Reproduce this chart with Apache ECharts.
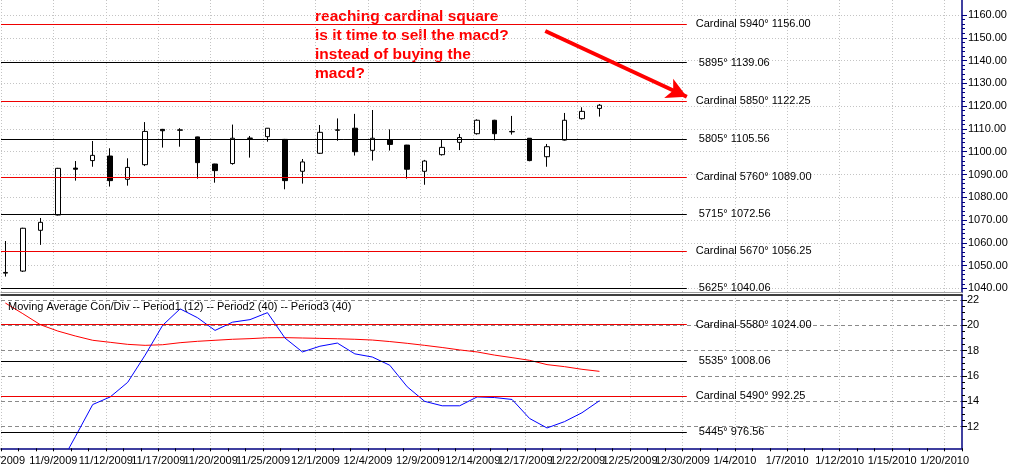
<!DOCTYPE html>
<html><head><meta charset="utf-8">
<script src="https://cdn.jsdelivr.net/npm/echarts@6/dist/echarts.min.js"></script>
<style>html,body{margin:0;padding:0;background:#fff}#c{width:1012px;height:467px}</style>
</head><body><div id="c"></div>
<script>
// ---- data ----
const dates = ['11/4/2009','11/5/2009','11/6/2009','11/9/2009','11/10/2009','11/11/2009','11/12/2009','11/13/2009','11/16/2009','11/17/2009',
 '11/18/2009','11/19/2009','11/20/2009','11/23/2009','11/24/2009','11/25/2009','11/27/2009','11/30/2009','12/1/2009','12/2/2009',
 '12/3/2009','12/4/2009','12/7/2009','12/8/2009','12/9/2009','12/10/2009','12/11/2009','12/14/2009','12/15/2009','12/16/2009',
 '12/17/2009','12/18/2009','12/21/2009','12/22/2009','12/23/2009','12/24/2009','12/25/2009','12/28/2009','12/29/2009','12/30/2009',
 '12/31/2009','1/1/2010','1/4/2010','1/5/2010','1/6/2010','1/7/2010','1/8/2010','1/11/2010','1/12/2010','1/13/2010',
 '1/14/2010','1/15/2010','1/18/2010','1/19/2010','1/20/2010','1/21/2010'];
const opens  = [1046.7,1047.6,1065.5,1072.2,1092.8,1096.1,1098.1,1087.9,1094.3,1109.8,1109.4,1106.5,1094.6,1094.8,1105.8,1106.6,1105.4,1091.4,1099.3,1109.4,1110.3,1100.6,1105.1,1102.9,1091.4,1098.7,1104.1,1107.9,1113.8,1108.7,1105.9,1097.8,1105.1,1114.5,1119.0];
const closes = [1047.0,1066.4,1069.0,1092.7,1092.3,1098.4,1087.3,1093.1,1108.9,1109.2,1109.6,1095.2,1091.7,1105.9,1106.0,1110.3,1087.3,1095.5,1108.5,1109.6,1100.0,1105.9,1103.2,1092.3,1095.9,1101.9,1106.2,1113.8,1107.9,1108.9,1096.1,1102.2,1113.8,1117.7,1120.4];
const lows   = [1045.2,1047.2,1059.1,1072.0,1087.3,1093.4,1084.7,1085.1,1093.7,1101.8,1102.2,1088.2,1086.4,1094.3,1097.4,1104.4,1083.5,1086.0,1099.0,1104.8,1098.3,1096.1,1100.5,1088.2,1085.5,1098.3,1100.7,1107.5,1105.0,1107.5,1095.8,1093.4,1104.9,1114.1,1115.4];
const highs  = [1060.8,1066.6,1070.9,1092.9,1095.9,1104.7,1101.5,1097.1,1113.0,1110.0,1110.3,1106.6,1094.7,1111.9,1106.9,1110.4,1105.6,1096.8,1111.7,1114.6,1116.6,1118.3,1109.8,1103.0,1096.4,1105.4,1107.8,1114.2,1114.0,1115.7,1105.9,1103.4,1117.0,1119.5,1120.9];
const macd   = [null,null,null,8.7,11.2,13.75,14.35,15.5,17.65,20.0,21.3,20.6,19.6,20.25,20.45,21.0,19.0,17.9,18.35,18.6,17.75,17.5,16.85,15.15,14.0,13.65,13.65,14.35,14.3,14.15,12.65,11.9,12.4,13.1,14.05];
const signal = [21.76,20.92,20.05,19.55,19.16,18.82,18.66,18.5,18.42,18.47,18.63,18.74,18.82,18.9,18.95,19.02,19.03,19.0,18.97,18.94,18.9,18.84,18.72,18.58,18.42,18.25,18.06,17.9,17.65,17.45,17.24,16.9,16.74,16.53,16.37];
const priceLevels   = [1156.00,1139.06,1122.25,1105.56,1089.00,1072.56,1056.25,1040.06];
const priceDegrees  = [5940,5895,5850,5805,5760,5715,5670,5625];
const priceCardinal = [true,false,true,false,true,false,true,false];
const macdLevels    = [20.05,17.2,14.4,11.55];
const macdDegrees   = [5580,5535,5490,5445];
const macdPrices    = [1024.00,1008.06,992.25,976.56];
const macdCardinal  = [true,false,true,false];
const priceTicks = {min:1040, max:1160, step:10};
const macdTicks  = {min:12, max:22, step:2};
const panelTitle = 'Moving Average Con/Div -- Period1 (12) -- Period2 (40) -- Period3 (40)';
const note = ['reaching cardinal square','is it time to sell the macd?','instead of buying the','macd?'];
const arrowFrom = [30.9, 1153];
const arrowTo   = [39.0, 1124.1];
const levelEndDate = '12/30/2009';

// ---- layout ----
const FONT = "'Liberation Sans', Arial, sans-serif";
const L = 1, R = 50;
const topFrame  = {top:0, height:292.5};
const priceGrid = {top:15, height:273.4};
const macdFrame = {top:295, height:153.3};
const macdGrid  = {top:300, height:126.7};
const shift = 0.25;                 // candles sit a bit right of date grid lines
const xMin = -shift, xMax = dates.length - 1 - shift;
const mPx = macdGrid.height / (macdTicks.max - macdTicks.min);
const macdMax = macdTicks.max + (macdGrid.top - macdFrame.top) / mPx;
const macdMin = macdTicks.min - ((macdFrame.top + macdFrame.height) - (macdGrid.top + macdGrid.height)) / mPx;
const endX = dates.indexOf(levelEndDate);
const RED = '#ee0000', NAVY = '#000080';

const candleData = opens.map((o,i)=>[i, o, closes[i], lows[i], highs[i]]);
const macdData = macd.map((v,i)=>[i, v]);
const sigData = signal.map((v,i)=>[i, v]);

function levelLines(vals, degs, prices, card){
  return vals.map((v,i)=>{
    const c = card[i];
    const txt = (c ? 'Cardinal ' : ' ') + degs[i] + '\u00b0 ' + prices[i].toFixed(2);
    return [
      {coord:[xMin, v], lineStyle:{color: c ? RED : '#000', width:1, type:'solid'},
       label:{show:true, position:'end', distance:9, formatter: txt, color:'#000', fontSize:11, fontFamily:FONT}},
      {coord:[endX, v]}
    ];
  });
}

const labelAxisBase = {
  type:'category', data: dates, boundaryGap:false,
  splitLine:{show:true, interval:2, lineStyle:{color:'#c4c4c4', type:[1,2], width:1}},
};
const gridBase = {left:L, right:R, outerBoundsMode:'none', containLabel:false};
const hiddenLine = {show:false, onZero:false};

const chart = echarts.init(document.getElementById('c'), null, {renderer:'canvas'});
chart.setOption({
  backgroundColor:'#ffffff',
  animation:false,
  textStyle:{fontFamily:FONT},
  title:{text:panelTitle, left:3, top:296, textStyle:{fontSize:11, fontWeight:'normal', color:'#000', fontFamily:FONT}},
  graphic:[{
    type:'text', left:315, top:7, silent:true,
    style:{text: note.join('\n'), fill:'#ff0000', font:"bold 15.5px " + FONT, lineHeight:19}
  }],
  grid:[
    Object.assign({top:topFrame.top, height:topFrame.height}, gridBase),
    Object.assign({top:priceGrid.top, height:priceGrid.height}, gridBase),
    Object.assign({top:macdFrame.top, height:macdFrame.height}, gridBase),
    Object.assign({top:macdGrid.top, height:macdGrid.height}, gridBase)
  ],
  xAxis:[
    Object.assign({gridIndex:0, position:'bottom',
      axisLine:{show:true, onZero:false, lineStyle:{color:'#a0a0a0', width:1}}, axisTick:{show:false}, axisLabel:{show:false}}, labelAxisBase),
    {gridIndex:1, type:'value', min:xMin, max:xMax, show:false, axisLine:hiddenLine},
    Object.assign({gridIndex:2, position:'bottom',
      axisLine:{show:true, onZero:false, lineStyle:{color:NAVY, width:1.5}},
      axisTick:{show:true, interval:0, length:3, lineStyle:{color:'#000'}},
      axisLabel:{show:true, interval:2, color:'#000', fontSize:11, margin:7, fontFamily:FONT}}, labelAxisBase),
    {gridIndex:2, type:'value', min:xMin, max:xMax, position:'top',
      axisLine:{show:true, onZero:false, lineStyle:{color:'#000', width:1.5}}, axisTick:{show:false}, axisLabel:{show:false}, splitLine:{show:false}},
    {gridIndex:3, type:'value', min:xMin, max:xMax, show:false, axisLine:hiddenLine}
  ],
  yAxis:[
    {gridIndex:0, type:'value', min:0, max:1, position:'right',
      axisLine:{show:true, onZero:false, lineStyle:{color:NAVY, width:1.5}}, axisTick:{show:false}, axisLabel:{show:false}, splitLine:{show:false}},
    {gridIndex:1, type:'value', min:priceTicks.min, max:priceTicks.max, interval:priceTicks.step, position:'right',
      axisLine:hiddenLine, axisTick:{show:true, length:5, lineStyle:{color:NAVY}},
      minorTick:{show:true, splitNumber:5, length:3, lineStyle:{color:NAVY}},
      axisLabel:{show:true, color:'#000', fontSize:11, margin:6, fontFamily:FONT, formatter:v=>v.toFixed(2)},
      splitLine:{show:true, lineStyle:{color:'#c4c4c4', type:[1,2], width:1}}},
    {gridIndex:2, type:'value', min:macdMin, max:macdMax, position:'right',
      axisLine:{show:true, onZero:false, lineStyle:{color:NAVY, width:1.5}}, axisTick:{show:false}, axisLabel:{show:false}, splitLine:{show:false}},
    {gridIndex:3, type:'value', min:macdTicks.min, max:macdTicks.max, interval:macdTicks.step, position:'right',
      axisLine:hiddenLine, axisTick:{show:true, length:5, lineStyle:{color:'#000'}},
      minorTick:{show:true, splitNumber:4, length:3, lineStyle:{color:'#000'}},
      axisLabel:{show:true, color:'#000', fontSize:11, margin:5, fontFamily:FONT},
      splitLine:{show:true, lineStyle:{color:'#8a8a8a', type:[4,3], width:1}}}
  ],
  series:[
    {type:'candlestick', xAxisIndex:1, yAxisIndex:1, data:candleData, encode:{x:0, y:[1,2,3,4]},
      barWidth:5,
      itemStyle:{color:'#ffffff', color0:'#000000', borderColor:'#000000', borderColor0:'#000000', borderWidth:1},
      markLine:{silent:true, symbol:['none','none'], animation:false,
        data: levelLines(priceLevels, priceDegrees, priceLevels, priceCardinal).concat([[
          {coord:arrowFrom, symbol:'none', lineStyle:{color:'#ff0000', width:4, type:'solid'}, label:{show:false}},
          {coord:arrowTo, symbol:'arrow', symbolSize:[16,20]}
        ]])}
    },
    {type:'line', xAxisIndex:3, yAxisIndex:2, data:sigData, showSymbol:false, symbol:'none',
      lineStyle:{color:'#ff0000', width:1}, clip:true},
    {type:'line', xAxisIndex:3, yAxisIndex:2, data:macdData, showSymbol:false, symbol:'none',
      lineStyle:{color:'#0000ff', width:1}, clip:true,
      markLine:{silent:true, symbol:['none','none'], animation:false,
        data: levelLines(macdLevels, macdDegrees, macdPrices, macdCardinal)}}
  ]
});
</script></body></html>
